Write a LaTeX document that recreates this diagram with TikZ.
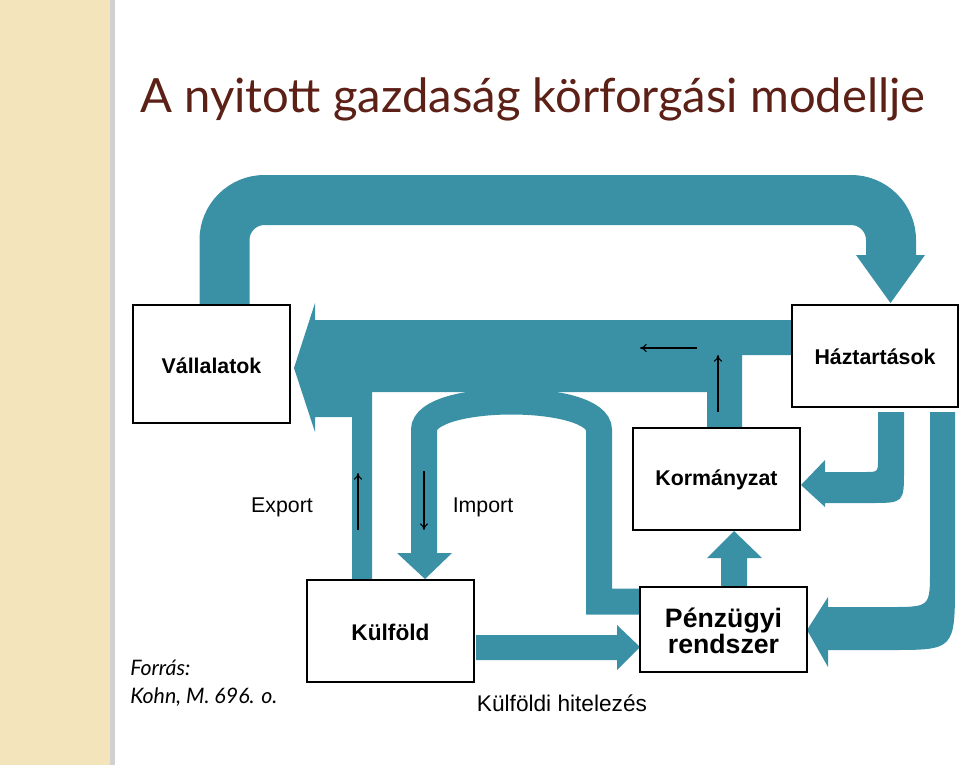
\documentclass[tikz,border=0pt]{standalone}
\usepackage{fontspec}
\usetikzlibrary{arrows.meta}
\setmainfont{Liberation Sans}
\newfontfamily\titlefont{Lato}
\begin{document}
\begin{tikzpicture}[x=0.75pt,y=-0.75pt,
  flow/.style={fill=teal1,draw=none},
  box/.style={draw=black,line width=0.9pt,fill=white,inner sep=0pt},
  thinarr/.style={draw=black,line width=0.8pt,-{To[length=5pt,width=6pt]}},
  lbl/.style={font=\fontsize{16}{18}\selectfont},
  blbl/.style={font=\fontsize{16}{18}\selectfont\bfseries}]
\definecolor{teal1}{RGB}{58,145,166}
\definecolor{beige}{RGB}{243,228,187}
\definecolor{titlec}{RGB}{92,32,22}
\useasboundingbox (0,0) rectangle (960,765);
\fill[white] (0,0) rectangle (960,765);
\fill[beige] (0,0) rectangle (110,765);
\fill[black!18] (110,0) rectangle (115,765);
% title
\node[anchor=base west,text=titlec,inner sep=0pt] (title) at (140,112)
  {\resizebox{589pt}{!}{\titlefont A nyitott gazdaság körforgási modellje}};
% top loop
\draw[teal1,line width=37.5pt,rounded corners=30pt] (224.5,305) -- (224.5,200) -- (891,200) -- (891,258);
\fill[flow] (856,255) -- (925,255) -- (890.5,303) -- cycle;
% big left arrow
\fill[flow] (294,368) -- (315,303) -- (315,320) -- (794,320) -- (794,355) -- (742,355) -- (742,428)
  -- (707,428) -- (707,392) -- (372,392) -- (372,579) -- (352,579) -- (352,417) -- (315,417) -- (315,432) -- cycle;
% import arch
\draw[teal1,line width=19.5pt] (424,555) -- (424,430) .. controls (424,392) and (599,392) .. (599,430) -- (599,601.5) -- (642,601.5);
\fill[flow] (397,553) -- (452,553) -- (425,579) -- cycle;
% Penzugyi -> Kormanyzat
\fill[flow] (721,587) -- (721,558) -- (707,558) -- (734,531) -- (762,558) -- (747,558) -- (747,587) -- cycle;
% Haztartasok -> Kormanyzat
\fill[flow] (878,412) -- (904,412) -- (904,470) .. controls (904,503) .. (870,503) -- (825,503) -- (825,507)
  -- (801,485) -- (825,460) -- (825,472) -- (865,472) .. controls (878,472) .. (878,459) -- cycle;
% Haztartasok -> Penzugyi
\fill[flow] (930,412) -- (955,412) -- (955,580) .. controls (955,650) .. (890,650) -- (828,650) -- (828,667)
  -- (807,630) -- (828,597) -- (828,607) -- (890,607) .. controls (930,607) .. (930,570) -- cycle;
% Kulfold -> Penzugyi
\fill[flow] (476,635) -- (617,635) -- (617,625) -- (640,647) -- (617,670) -- (617,660) -- (476,660) -- cycle;
% boxes
\node[box,minimum width=157*0.75pt,minimum height=118*0.75pt] (vall) at (211.5,364) {};
\node[blbl] at (211.5,366) {Vállalatok};
\node[box,minimum width=166*0.75pt,minimum height=102*0.75pt] (haz) at (875,356) {};
\node[blbl] at (875,357) {Háztartások};
\node[box,minimum width=167*0.75pt,minimum height=102*0.75pt] (korm) at (716.5,479) {};
\node[blbl] at (716.5,480) {Kormányzat};
\node[box,minimum width=167*0.75pt,minimum height=102*0.75pt] (kulf) at (390.5,631) {};
\node[font=\fontsize{17}{19}\selectfont\bfseries] at (390.5,632) {Külföld};
\node[box,minimum width=167*0.75pt,minimum height=85*0.75pt] (penz) at (723.5,629.5) {};
\node[font=\fontsize{20}{22}\selectfont\bfseries,align=center] at (723.5,631) {Pénzügyi\\[-2pt]rendszer};
% thin arrows
\coordinate (a1s) at (697,348); \coordinate (a1e) at (640,348);
\coordinate (a2s) at (718,412); \coordinate (a2e) at (718,355);
\coordinate (a3s) at (358,530); \coordinate (a3e) at (358,473);
\coordinate (a4s) at (424,471); \coordinate (a4e) at (424,530);
\draw[thinarr] (a1s) -- (a1e);
\draw[thinarr] (a2s) -- (a2e);
\draw[thinarr] (a3s) -- (a3e);
\draw[thinarr] (a4s) -- (a4e);
% labels
\node[lbl] (exp) at (282,507) {Export};
\node[lbl] (imp) at (483,507) {Import};
\node[font=\fontsize{17}{19}\selectfont] (hit) at (562,703) {Külföldi hitelezés};
\node[anchor=west,inner sep=0pt,font=\titlefont\itshape\fontsize{16}{18}\selectfont] (forr) at (130,668) {Forrás:};
\node[anchor=west,inner sep=0pt,font=\titlefont\itshape\fontsize{16}{18}\selectfont] (kohn) at (130,697) {Kohn, M. 696. o.};
\end{tikzpicture}
\end{document}
